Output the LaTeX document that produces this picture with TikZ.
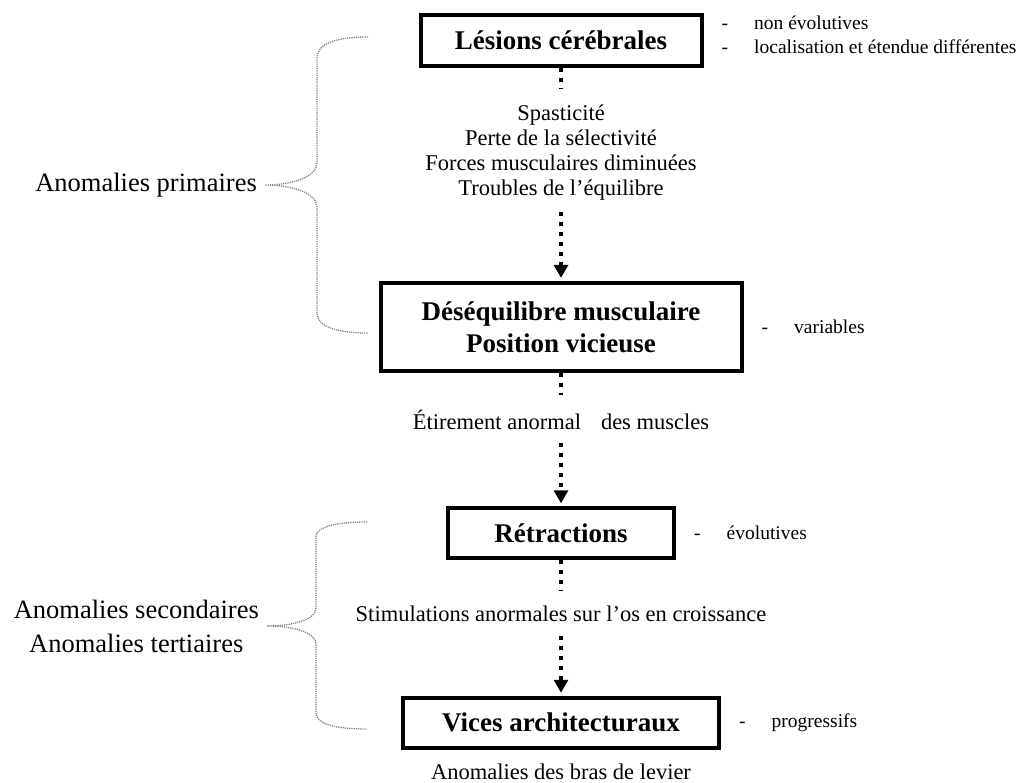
\documentclass[tikz,border=0pt]{standalone}
\usepackage{fontspec}
\setmainfont{Liberation Serif}
\usepackage{tikz}
\usetikzlibrary{positioning,arrows.meta}
\newcommand{\tiret}{-\hspace{26pt}}

\begin{document}
\begin{tikzpicture}[x=1pt, y=1pt,
  boite/.style={draw, rectangle, line width=4pt, inner sep=0pt, align=center, font=\fontsize{27}{32}\selectfont\bfseries},
  texte/.style={inner sep=0pt, align=center, font=\fontsize{22.5}{25}\selectfont},
  note/.style={inner sep=0pt, align=left, font=\fontsize{19.5}{24}\selectfont},
  etiq/.style={inner sep=0pt, align=center, font=\fontsize{26.5}{34}\selectfont},
  pointille/.style={line width=3.5pt, dash pattern=on 4pt off 6pt},
  fleche/.style={pointille, -{Triangle[length=13pt,width=14pt]}},
  accolade/.style={gray, line width=1.3pt, dash pattern=on 1.2pt off 1pt}]
\useasboundingbox (0,0) rectangle (1025,-783);

\node[boite, minimum width=281pt, minimum height=51pt] (lesions) at (561,-40.5) {Lésions cérébrales};
\node[texte, below=36.5pt of lesions] (sympt) {Spasticité\\Perte de la sélectivité\\Forces musculaires diminuées\\Troubles de l’équilibre};
\node[boite, minimum width=361pt, minimum height=88pt, below=80.5pt of sympt] (deseq) {Déséquilibre musculaire\\Position vicieuse};
\node[texte, below=37pt of deseq] (etir) {Étirement anormal\hspace{20pt}des muscles};
\node[boite, minimum width=226pt, minimum height=50pt, below=76.5pt of etir] (retr) {Rétractions};
\node[texte, below=45.75pt of retr] (stim) {Stimulations anormales sur l’os en croissance};
\node[boite, minimum width=316pt, minimum height=50pt, below=73.5pt of stim] (vices) {Vices architecturaux};
\node[texte, below=14pt of vices] (levier) {Anomalies des bras de levier};

% remarques a droite
\node[note, right=18pt of lesions, yshift=5.5pt] (noteA) {\tiret non évolutives\\\tiret localisation et étendue différentes};
\node[note, right=18pt of deseq] (noteB) {\tiret variables};
\node[note, right=18pt of retr] (noteC) {\tiret évolutives};
\node[note, right=18pt of vices] (noteD) {\tiret progressifs};

% fleches
\draw[pointille, shorten >=16pt] (lesions) -- (sympt);
\draw[fleche, shorten <=12pt, shorten >=3pt] (sympt) -- (deseq);
\draw[pointille, shorten >=15pt] (deseq) -- (etir);
\draw[fleche, shorten <=13.5pt, shorten >=3pt] (etir) -- (retr);
\draw[pointille, shorten >=15pt] (retr) -- (stim);
\draw[fleche, shorten <=13.5pt, shorten >=3pt] (stim) -- (vices);

% accolades
\coordinate (pointeA) at (265,-185);
\coordinate (pointeB) at (267,-626);
\node[etiq, left=8pt of pointeA] (prim) {Anomalies primaires};
\node[etiq, left=8pt of pointeB] (secter) {Anomalies secondaires\\Anomalies tertiaires};
\draw[accolade] (368,-37) .. controls (335,-37) and (317,-44) .. (317,-58) -- (317,-163) .. controls (317,-177) and (292,-185) .. (pointeA) .. controls (292,-185) and (317,-193) .. (317,-207) -- (317,-313) .. controls (317,-326) and (335,-333) .. (368,-333);
\draw[accolade] (367,-522) .. controls (335,-522) and (316,-527) .. (316,-537) -- (316,-608) .. controls (316,-620) and (292,-626) .. (pointeB) .. controls (292,-626) and (316,-632) .. (316,-644) -- (316,-713) .. controls (316,-724) and (335,-729) .. (367,-729);
\end{tikzpicture}
\end{document}
